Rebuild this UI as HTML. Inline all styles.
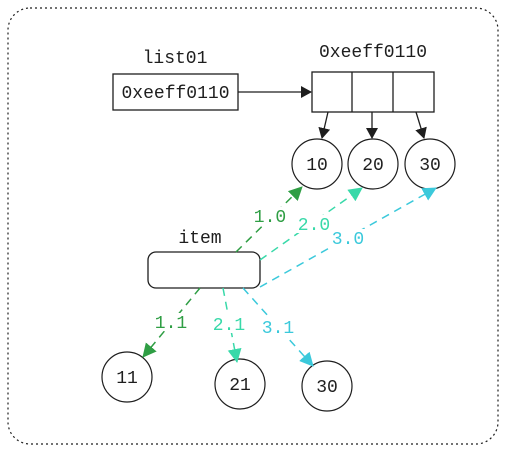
<!DOCTYPE html>
<html><head><style>
html,body{margin:0;padding:0;background:#fff;}
svg{display:block;}
text{font-family:"Liberation Mono","DejaVu Sans Mono",monospace;font-size:18px;}
</style></head><body>
<svg width="506" height="454" viewBox="0 0 506 454" xmlns="http://www.w3.org/2000/svg">
<defs>
<marker id="ab" markerWidth="11" markerHeight="12" refX="10" refY="6" orient="auto" markerUnits="userSpaceOnUse"><path d="M0,0 L11,6 L0,12 z" fill="#1e1e1e"/></marker>
<marker id="ag" markerWidth="14" markerHeight="14" refX="13" refY="7" orient="auto" markerUnits="userSpaceOnUse"><path d="M0,0 L14,7 L0,14 z" fill="#2f9e44"/></marker>
<marker id="at" markerWidth="14" markerHeight="14" refX="13" refY="7" orient="auto" markerUnits="userSpaceOnUse"><path d="M0,0 L14,7 L0,14 z" fill="#38d9a9"/></marker>
<marker id="ac" markerWidth="14" markerHeight="14" refX="13" refY="7" orient="auto" markerUnits="userSpaceOnUse"><path d="M0,0 L14,7 L0,14 z" fill="#3bc9db"/></marker>
</defs>
<rect x="8" y="8" width="490" height="436" rx="22" fill="none" stroke="#1e1e1e" stroke-width="1.2" stroke-dasharray="2,3"/>
<text x="175" y="63" text-anchor="middle" fill="#1e1e1e">list01</text>
<rect x="113" y="74" width="125" height="36" fill="none" stroke="#1e1e1e" stroke-width="1.3"/>
<text x="175.5" y="98" text-anchor="middle" fill="#1e1e1e">0xeeff0110</text>
<text x="373" y="57" text-anchor="middle" fill="#1e1e1e">0xeeff0110</text>
<rect x="312" y="72" width="122" height="40" fill="none" stroke="#1e1e1e" stroke-width="1.3"/>
<line x1="352" y1="72" x2="352" y2="112" stroke="#1e1e1e" stroke-width="1.3"/>
<line x1="393" y1="72" x2="393" y2="112" stroke="#1e1e1e" stroke-width="1.3"/>
<line x1="238" y1="92" x2="311" y2="92" stroke="#1e1e1e" stroke-width="1.3" marker-end="url(#ab)"/>
<line x1="328" y1="112" x2="322" y2="138" stroke="#1e1e1e" stroke-width="1.3" marker-end="url(#ab)"/>
<line x1="372" y1="112" x2="372" y2="138" stroke="#1e1e1e" stroke-width="1.3" marker-end="url(#ab)"/>
<line x1="416" y1="112" x2="424" y2="138" stroke="#1e1e1e" stroke-width="1.3" marker-end="url(#ab)"/>
<g fill="none" stroke="#1e1e1e" stroke-width="1.2">
<circle cx="317" cy="164" r="25"/><circle cx="373" cy="164" r="25"/><circle cx="430" cy="164" r="25"/>
<circle cx="127" cy="377" r="25"/><circle cx="240" cy="384" r="25"/><circle cx="327" cy="386" r="25"/>
</g>
<g fill="#1e1e1e" text-anchor="middle">
<text x="317" y="170">10</text><text x="373" y="170">20</text><text x="430" y="170">30</text>
<text x="127" y="383">11</text><text x="240" y="390">21</text><text x="327" y="392">30</text>
</g>
<text x="200" y="243" text-anchor="middle" fill="#1e1e1e">item</text>
<rect x="148" y="252" width="112" height="36" rx="8" fill="none" stroke="#1e1e1e" stroke-width="1.3"/>
<g fill="none" stroke-width="1.5" stroke-dasharray="8,6">
<line x1="236" y1="252" x2="302" y2="187" stroke="#2f9e44" marker-end="url(#ag)"/>
<line x1="260" y1="260" x2="362" y2="188" stroke="#38d9a9" marker-end="url(#at)"/>
<line x1="260" y1="287" x2="436" y2="188" stroke="#3bc9db" marker-end="url(#ac)"/>
<line x1="200" y1="288" x2="143" y2="357" stroke="#2f9e44" marker-end="url(#ag)"/>
<line x1="223" y1="288" x2="237" y2="362" stroke="#38d9a9" marker-end="url(#at)"/>
<line x1="243" y1="288" x2="313" y2="366" stroke="#3bc9db" marker-end="url(#ac)"/>
</g>
<g text-anchor="middle">
<rect x="252" y="207" width="36" height="18" fill="#fff"/><text x="270" y="222" fill="#2f9e44">1.0</text>
<rect x="296" y="215" width="36" height="18" fill="#fff"/><text x="314" y="230" fill="#38d9a9">2.0</text>
<rect x="330" y="229" width="36" height="18" fill="#fff"/><text x="348" y="244" fill="#3bc9db">3.0</text>
<rect x="153" y="313" width="36" height="18" fill="#fff"/><text x="171" y="328" fill="#2f9e44">1.1</text>
<rect x="211" y="315" width="36" height="18" fill="#fff"/><text x="229" y="330" fill="#38d9a9">2.1</text>
<rect x="260" y="318" width="36" height="18" fill="#fff"/><text x="278" y="333" fill="#3bc9db">3.1</text>
</g>
</svg>
</body></html>
